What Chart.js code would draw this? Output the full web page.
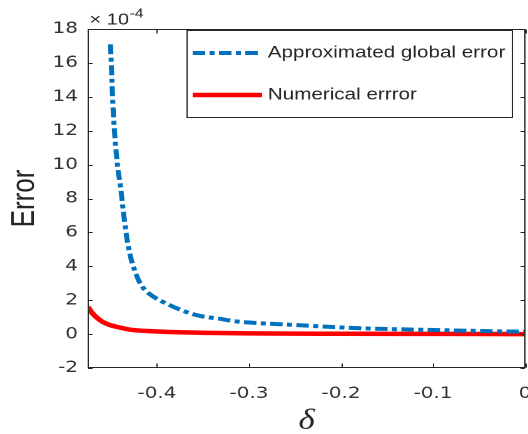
<!DOCTYPE html>
<html>
<head>
<meta charset="utf-8">
<script src="https://cdn.jsdelivr.net/npm/chart.js@4/dist/chart.umd.min.js"></script>
<style>
  html, body { margin: 0; padding: 0; background: #fff; overflow: hidden; }
  #wrap { width: 528px; height: 434px; overflow: hidden; }
  /* the source figure is stretched sideways, so the canvas is too */
  #c { transform: scaleX(1.2512); transform-origin: 0 0; }
</style>
</head>
<body>
<div id="wrap"><canvas id="c" width="422" height="434"></canvas></div>
<script>
// Approximated global error (units of 1e-4)
const deltaApprox = [-0.4505, -0.449, -0.4476, -0.4422, -0.4403, -0.4367, -0.4313, -0.4221, -0.4153, -0.4076,
                     -0.3935, -0.3713, -0.3531, -0.3313, -0.3172, -0.2801, -0.2441, -0.1864, -0.1057, -0.0153, 0];
const approxError = [17.1, 15.0, 13.2, 9.6, 9.0, 7.3, 5.2, 3.45, 2.75, 2.35,
                     1.9, 1.37, 1.07, 0.9, 0.77, 0.62, 0.52, 0.36, 0.25, 0.15, 0.14];

// Numerical error (units of 1e-4)
const deltaNum = [-0.475, -0.4705, -0.466, -0.46, -0.452, -0.446, -0.43, -0.41, -0.39, -0.345, -0.3, -0.2, -0.1, 0];
const numError = [1.6, 1.25, 1.0, 0.75, 0.55, 0.46, 0.27, 0.18, 0.13, 0.07, 0.04, 0.02, 0.01, 0];

// Tick labels
const xTicks = [-0.4, -0.3, -0.2, -0.1, 0];
const yTicks = [-2, 0, 2, 4, 6, 8, 10, 12, 14, 16, 18];

const seriesNames = ['Approximated global error', 'Numerical errror'];
const blue = '#0072BD';
const red = '#FF0000';
const axisColor = '#262626';
const dashDot = [10, 3.5, 4, 3.5];

function toPoints(xs, ys) {
    return xs.map((x, i) => ({ x: x, y: ys[i] }));
}

// box, inward ticks, legend and the exponent label, MATLAB style
const matlabAxes = {
    id: 'matlabAxes',
    afterDraw(chart) {
        const ctx = chart.ctx;
        const a = chart.chartArea;
        const x = chart.scales.x;
        const y = chart.scales.y;
        const L = Math.round(a.left) + 0.5, R = Math.round(a.right) - 0.5;
        const T = Math.round(a.top) + 0.5, B = Math.round(a.bottom) - 0.5;

        ctx.save();
        ctx.strokeStyle = axisColor;
        ctx.lineWidth = 1;
        ctx.strokeRect(L, T, R - L, B - T);

        ctx.beginPath();
        xTicks.forEach(v => {
            const px = Math.round(x.getPixelForValue(v)) + 0.5;
            ctx.moveTo(px, B); ctx.lineTo(px, B - 4);
            ctx.moveTo(px, T); ctx.lineTo(px, T + 4);
        });
        yTicks.forEach(v => {
            const py = Math.round(y.getPixelForValue(v)) + 0.5;
            ctx.moveTo(L, py); ctx.lineTo(L + 3.5, py);
            ctx.moveTo(R, py); ctx.lineTo(R - 3.5, py);
        });
        ctx.stroke();

        // exponent
        ctx.fillStyle = axisColor;
        ctx.textBaseline = 'alphabetic';
        ctx.textAlign = 'left';
        ctx.font = '16px "Liberation Sans", Arial, sans-serif';
        ctx.fillText('\u00d7 10', 71.5, 24.5);
        const w = ctx.measureText('\u00d7 10').width;
        ctx.font = '12.5px "Liberation Sans", Arial, sans-serif';
        ctx.fillText('-4', 71.5 + w + 0.5, 17.5);

        // legend
        const lx = 149.5, ly = 30.5, lw = 260, lh = 87;
        ctx.fillStyle = '#fff';
        ctx.fillRect(lx, ly, lw, lh);
        ctx.strokeStyle = axisColor;
        ctx.lineWidth = 1;
        ctx.strokeRect(lx, ly, lw, lh);

        const rows = [
            { y: 53, color: blue, dash: dashDot, width: 4 },
            { y: 95, color: red, dash: [], width: 4.5 }
        ];
        rows.forEach((r, i) => {
            ctx.beginPath();
            ctx.setLineDash(r.dash);
            ctx.strokeStyle = r.color;
            ctx.lineWidth = r.width;
            ctx.moveTo(154, r.y);
            ctx.lineTo(209.5, r.y);
            ctx.stroke();
            ctx.setLineDash([]);
            ctx.fillStyle = axisColor;
            ctx.font = '16.5px "Liberation Sans", Arial, sans-serif';
            ctx.textBaseline = 'middle';
            ctx.fillText(seriesNames[i], 214, r.y);
        });
        ctx.restore();
    }
};

new Chart(document.getElementById('c'), {
    type: 'scatter',
    data: {
        datasets: [{
            label: seriesNames[0],
            data: toPoints(deltaApprox, approxError),
            showLine: true,
            borderColor: blue,
            backgroundColor: blue,
            borderWidth: 4,
            borderDash: dashDot,
            pointRadius: 0,
            cubicInterpolationMode: 'monotone'
        }, {
            label: seriesNames[1],
            data: toPoints(deltaNum, numError),
            showLine: true,
            borderColor: red,
            backgroundColor: red,
            borderWidth: 4.5,
            pointRadius: 0,
            cubicInterpolationMode: 'monotone'
        }]
    },
    options: {
        responsive: false,
        maintainAspectRatio: false,
        devicePixelRatio: 2,
        animation: false,
        layout: { padding: { left: 0, right: 2.4, top: 29, bottom: 0 } },
        plugins: {
            legend: { display: false },
            tooltip: { enabled: false }
        },
        scales: {
            x: {
                type: 'linear',
                min: -0.475,
                max: 0,
                grid: { display: false, drawTicks: false },
                border: { display: false },
                afterBuildTicks: scale => { scale.ticks = xTicks.map(v => ({ value: v })); },
                afterFit: scale => { scale.height = 66; scale.paddingLeft = 0; scale.paddingRight = 0; },
                ticks: {
                    color: '#333',
                    padding: 16,
                    maxRotation: 0,
                    font: { family: '"DejaVu Sans", sans-serif', size: 16 },
                    callback: v => String(v)
                },
                title: {
                    display: true,
                    text: '\u03b4',
                    color: axisColor,
                    font: { family: '"Liberation Serif", "DejaVu Serif", serif', size: 28, style: 'italic', lineHeight: 1 },
                    padding: { top: 0, bottom: -1 }
                }
            },
            y: {
                type: 'linear',
                min: -2,
                max: 18,
                grid: { display: false, drawTicks: false },
                border: { display: false },
                afterBuildTicks: scale => { scale.ticks = yTicks.map(v => ({ value: v })); },
                afterFit: scale => { scale.width = 70.3; scale.paddingTop = 0; scale.paddingBottom = 0; },
                ticks: {
                    color: '#333',
                    padding: 8,
                    font: { family: '"DejaVu Sans", sans-serif', size: 16 },
                    callback: v => String(v)
                },
                title: {
                    display: true,
                    text: 'Error',
                    color: axisColor,
                    font: { family: '"Liberation Sans", Arial, sans-serif', size: 26, lineHeight: 1 },
                    padding: { top: 7, bottom: 0 }
                }
            }
        }
    },
    plugins: [matlabAxes]
});
</script>
</body>
</html>
